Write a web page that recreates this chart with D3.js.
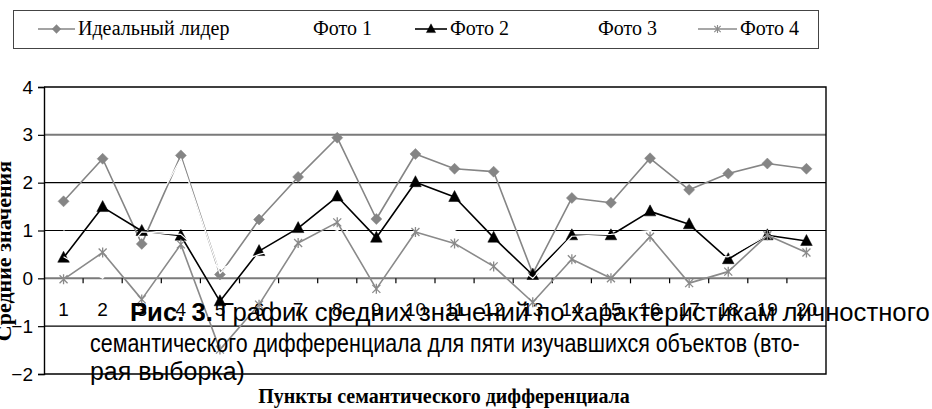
<!DOCTYPE html>
<html>
<head>
<meta charset="utf-8">
<script src="https://cdn.jsdelivr.net/npm/d3@7"></script>
<style>
  html, body { margin: 0; padding: 0; background: #fff; }
  svg { display: block; }
</style>
</head>
<body>
<svg id="chart" width="932" height="409"></svg>
<script>
// Points of the semantic differential (1..20)
const categories = d3.range(1, 21).map(String);

// Mean values for each studied object
const idealLeader = [1.61, 2.50, 0.72, 2.57, 0.08, 1.23, 2.12, 2.94, 1.24, 2.60, 2.29, 2.23, 0.10, 1.68, 1.58, 2.51, 1.85, 2.19, 2.40, 2.29];
const photo1      = [1.00, 0.02, 1.02, 2.50, 0.10, 0.90, 1.00, 1.20, 0.40, 1.00, 0.95, 0.60, 0.02, 0.92, 0.50, 1.00, 0.60, 0.42, 0.92, 0.70];
const photo2      = [0.43, 1.49, 0.99, 0.89, -0.48, 0.57, 1.05, 1.71, 0.85, 2.01, 1.70, 0.85, 0.07, 0.90, 0.90, 1.40, 1.13, 0.40, 0.90, 0.78];
const photo3      = [0.45, 0.00, 0.97, 0.92, 0.20, 0.50, 0.70, 1.00, 0.50, 1.00, 1.00, 0.60, 0.00, 0.88, 0.92, 1.00, 0.50, 0.45, 0.90, 0.62];
const photo4      = [-0.02, 0.54, -0.44, 0.71, -1.49, -0.55, 0.74, 1.17, -0.22, 0.97, 0.73, 0.25, -0.50, 0.40, 0.00, 0.87, -0.10, 0.14, 0.90, 0.54];

const seriesNames = ["Идеальный лидер", "Фото 1", "Фото 2", "Фото 3", "Фото 4"];
const yTicks = [-2, -1, 0, 1, 2, 3, 4];
const yTitle = "Средние значения";
const xTitle = "Пункты семантического дифференциала";
const captionBold = "Рис. 3.";
const captionLines = [
  "График средних значений по характеристикам личностного",
  "семантического дифференциала для пяти изучавшихся объектов  (вто-",
  "рая выборка)"
];

const series = [
  { name: seriesNames[0], values: idealLeader, color: "#858585", marker: "diamond", width: 1.6 },
  { name: seriesNames[1], values: photo1,      color: "#ffffff", marker: "none",    width: 1.2 },
  { name: seriesNames[2], values: photo2,      color: "#000000", marker: "triangle", width: 1.6 },
  { name: seriesNames[3], values: photo3,      color: "#ffffff", marker: "none",    width: 1.2 },
  { name: seriesNames[4], values: photo4,      color: "#8a8a8a", marker: "star",    width: 1.6 }
];

const svg = d3.select("#chart");
const plot = { left: 44, right: 826, top: 87, bottom: 374 };
const sans = "Liberation Sans, Arial, sans-serif";
const serif = "Liberation Serif, 'Times New Roman', serif";

const x = d3.scaleBand().domain(categories).range([plot.left, plot.right]).padding(0);
const y = d3.scaleLinear().domain([-2, 4]).range([plot.bottom, plot.top]);
const cx = c => x(c) + x.bandwidth() / 2;

// Horizontal gridlines
svg.append("g").selectAll("line")
  .data(yTicks.filter(t => t > -2 && t < 4))
  .join("line")
  .attr("x1", plot.left).attr("x2", plot.right)
  .attr("y1", d => y(d)).attr("y2", d => y(d))
  .attr("stroke", d => (d === 3 || d === 0) ? "#7a7a7a" : "#000")
  .attr("stroke-width", d => (d === 3 || d === 0) ? 2 : 1.2);

// Plot frame: top, right and bottom edges
svg.append("path")
  .attr("d", `M${plot.left},${y(4)}H${plot.right}V${y(-2)}H${plot.left}`)
  .attr("fill", "none").attr("stroke", "#000").attr("stroke-width", 1.4);

// Y axis
const yAxis = svg.append("g")
  .attr("transform", `translate(${plot.left},0)`)
  .call(d3.axisLeft(y).tickValues(yTicks).tickSize(6).tickPadding(5).tickFormat(d3.format("d")));
yAxis.select(".domain").attr("stroke", "#000").attr("stroke-width", 1.4);
yAxis.selectAll(".tick line").attr("stroke", "#000").attr("stroke-width", 1.2);
yAxis.selectAll("text")
  .attr("font-family", sans)
  .attr("font-size", 19).attr("fill", "#000");

// Category axis sits on the zero line: ticks at the band boundaries
svg.append("g").selectAll("line")
  .data(categories.slice(1))
  .join("line")
  .attr("x1", d => x(d)).attr("x2", d => x(d))
  .attr("y1", y(0)).attr("y2", y(0) + 5)
  .attr("stroke", "#000").attr("stroke-width", 1.2);

svg.append("g").selectAll("text")
  .data(categories)
  .join("text")
  .attr("x", d => cx(d))
  .attr("y", y(0) + 38)
  .attr("text-anchor", "middle")
  .attr("font-family", sans)
  .attr("font-size", 19)
  .text(d => d);

// Marker shapes
function markerPath(type) {
  if (type === "diamond") return "M0,-5.5L5.5,0L0,5.5L-5.5,0Z";
  if (type === "triangle") return "M0,-6.5L5.8,4.5L-5.8,4.5Z";
  if (type === "star") return "M-4,-4L4,4M-4,4L4,-4M0,-5V5";
  return null;
}

const line = d3.line().x((d, i) => cx(categories[i])).y(d => y(d));

series.forEach(s => {
  const g = svg.append("g");
  g.append("path")
    .attr("d", line(s.values))
    .attr("fill", "none")
    .attr("stroke", s.color)
    .attr("stroke-width", s.width)
    .attr("stroke-linejoin", "round");
  const p = markerPath(s.marker);
  if (p) {
    g.selectAll("path.m")
      .data(s.values)
      .join("path")
      .attr("class", "m")
      .attr("transform", (d, i) => `translate(${cx(categories[i])},${y(d)})`)
      .attr("d", p)
      .attr("fill", s.marker === "star" ? "none" : s.color)
      .attr("stroke", s.color)
      .attr("stroke-width", s.marker === "star" ? 1.3 : 0.5);
  }
});

// Legend
const legend = svg.append("g");
legend.append("rect")
  .attr("x", 13.5).attr("y", 10.5).attr("width", 805).attr("height", 38)
  .attr("fill", "#fff").attr("stroke", "#444").attr("stroke-width", 1);

const legendPos = [
  { lx: 38, tx: 78 },
  { lx: 273, tx: 313 },
  { lx: 415, tx: 450 },
  { lx: 558, tx: 598 },
  { lx: 698, tx: 740 }
];
series.forEach((s, i) => {
  const lp = legendPos[i];
  const ly = 29;
  const lineEnd = lp.tx - 3;
  legend.append("line")
    .attr("x1", lp.lx).attr("x2", lineEnd)
    .attr("y1", ly).attr("y2", ly)
    .attr("stroke", s.color).attr("stroke-width", 1.6);
  const p = markerPath(s.marker);
  if (p) {
    legend.append("path")
      .attr("transform", `translate(${(lp.lx + lineEnd) / 2},${ly}) scale(0.8)`)
      .attr("d", p)
      .attr("fill", s.marker === "star" ? "none" : s.color)
      .attr("stroke", s.color)
      .attr("stroke-width", s.marker === "star" ? 1.4 : 0.5);
  }
  legend.append("text")
    .attr("x", lp.tx).attr("y", ly + 6)
    .attr("font-family", serif)
    .attr("font-size", 20)
    .text(s.name);
});

// Axis titles
svg.append("text")
  .attr("transform", `translate(11,251) rotate(-90)`)
  .attr("text-anchor", "middle")
  .attr("font-family", serif)
  .attr("font-weight", "bold")
  .attr("font-size", 22)
  .text(yTitle);

svg.append("text")
  .attr("x", 444).attr("y", 403)
  .attr("text-anchor", "middle")
  .attr("font-family", serif)
  .attr("font-weight", "bold")
  .attr("font-size", 20)
  .text(xTitle);

// Figure caption printed over the plot; each line is fitted to its span
const cap = svg.append("g")
  .attr("font-family", sans)
  .attr("font-size", 25)
  .attr("fill", "#000")
  .attr("xml:space", "preserve");

const t1 = cap.append("text").attr("y", 321);
t1.append("tspan").attr("font-weight", "bold").text(captionBold);
t1.append("tspan").text(" " + captionLines[0]);
const t2 = cap.append("text").attr("y", 352).text(captionLines[1]);
const t3 = cap.append("text").attr("y", 380).text(captionLines[2]);

function fitLine(t, x0, width) {
  const k = width / t.node().getComputedTextLength();
  t.attr("transform", `scale(${k},1)`).attr("x", x0 / k);
}
fitLine(t1, 130, 800);
fitLine(t2, 90, 710);
fitLine(t3, 90, 155);
</script>
</body>
</html>
